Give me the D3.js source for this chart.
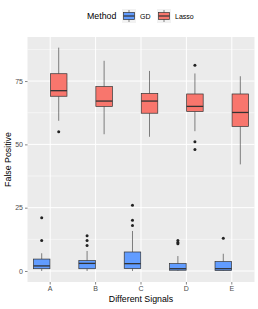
<!DOCTYPE html>
<html><head><meta charset="utf-8">
<script src="https://cdn.jsdelivr.net/npm/d3@7"></script>
<style>body{margin:0;background:#fff}svg{display:block}text{font-family:"Liberation Sans",Arial,sans-serif}</style>
</head><body><svg id="c" width="258" height="309"></svg>
<script>
const categories = ["A","B","C","D","E"];
const methods = ["GD","Lasso"];
const colors = ["#619CFF","#F8766D"];
// [whiskerLow, Q1, median, Q3, whiskerHigh]
const gdStats = [[0,0.9,2,4.7,7],[0,0.9,3,4.1,7.9],[0,1,2.9,7.5,15.8],[0,0.3,0.9,2.9,5.9],[0,0.2,0.9,3.7,6.8]];
const lassoStats = [[59.3,69,71.2,77.9,88.2],[54,65,67.1,72.8,83],[53,62.3,67.1,70.1,79],[55.2,63,65,69.9,78],[42.1,57.1,62.6,69.9,76.9]];
const gdOutliers = [[21,12],[13.9,12,10.1],[26,20,18],[12,11.2,10.8],[12.9]];
const lassoOutliers = [[55],[],[],[81.2,51,48],[]];
const yTicks = [0,25,50,75];
const yMinor = [12.5,37.5,62.5,87.5];

const svg = d3.select("#c");
const L=27.5, R=254.5, T=37, B=282;
const x = d3.scaleBand().domain(categories).range([L,R]).paddingOuter(0.1).paddingInner(0.2);
const step = x.step();
const xc = c => x(c)+x.bandwidth()/2;
const y = d3.scaleLinear().domain([-4.35,92.4]).range([B,T]);

svg.append("rect").attr("x",L).attr("y",T).attr("width",R-L).attr("height",B-T).attr("fill","#EBEBEB");
const g = svg.append("g");
g.selectAll(".mn").data(yMinor).join("line").attr("x1",L).attr("x2",R).attr("y1",d=>y(d)).attr("y2",d=>y(d)).attr("stroke","#fff").attr("stroke-width",0.5);
g.selectAll(".mj").data(yTicks).join("line").attr("x1",L).attr("x2",R).attr("y1",d=>y(d)).attr("y2",d=>y(d)).attr("stroke","#fff").attr("stroke-width",1);
g.selectAll(".vx").data(categories).join("line").attr("x1",d=>xc(d)).attr("x2",d=>xc(d)).attr("y1",T).attr("y2",B).attr("stroke","#fff").attr("stroke-width",1);

const dodge = step*0.75/2;
const bw = dodge*0.97;
const sets = [{stats:gdStats,out:gdOutliers,col:colors[0],off:-dodge/2},{stats:lassoStats,out:lassoOutliers,col:colors[1],off:dodge/2}];
sets.forEach(s=>{
  categories.forEach((c,i)=>{
    const cx = xc(c)+s.off, st=s.stats[i];
    g.append("line").attr("x1",cx).attr("x2",cx).attr("y1",y(st[4])).attr("y2",y(st[3])).attr("stroke","#333").attr("stroke-width",0.6);
    g.append("line").attr("x1",cx).attr("x2",cx).attr("y1",y(st[1])).attr("y2",y(st[0])).attr("stroke","#333").attr("stroke-width",0.6);
    g.append("rect").attr("x",cx-bw/2).attr("y",y(st[3])).attr("width",bw).attr("height",y(st[1])-y(st[3])).attr("fill",s.col).attr("stroke","#333").attr("stroke-width",0.7);
    g.append("line").attr("x1",cx-bw/2).attr("x2",cx+bw/2).attr("y1",y(st[2])).attr("y2",y(st[2])).attr("stroke","#333").attr("stroke-width",1.3);
    s.out[i].forEach(o=>g.append("circle").attr("cx",cx).attr("cy",y(o)).attr("r",1.5).attr("fill","#222"));
  });
});

// axes
const ya = svg.append("g").attr("transform",`translate(${L},0)`).call(d3.axisLeft(y).tickValues(yTicks).tickSize(2.5).tickPadding(2));
ya.select(".domain").remove();
ya.selectAll("line").attr("stroke","#333").attr("stroke-width",0.6);
ya.selectAll("text").attr("fill","#4D4D4D").style("font-size","7px");
const xa = svg.append("g").attr("transform",`translate(0,${B})`).call(d3.axisBottom(x).tickSize(2.5).tickPadding(2));
xa.select(".domain").remove();
xa.selectAll("line").attr("stroke","#333").attr("stroke-width",0.6);
xa.selectAll("text").attr("fill","#4D4D4D").style("font-size","7px");

svg.append("text").attr("x",(L+R)/2).attr("y",302).attr("text-anchor","middle").style("font-size","8.8px").attr("fill","#000").text("Different Signals");
svg.append("text").attr("transform",`translate(11,${(T+B)/2}) rotate(-90)`).attr("text-anchor","middle").style("font-size","8.8px").attr("fill","#000").text("False Positive");

// legend
const lg = svg.append("g");
lg.append("text").attr("x",87).attr("y",19).style("font-size","8.8px").text("Method");
const keyX=[122,157], labX=[140,175];
methods.forEach((m,i)=>{
  const kx=keyX[i], ky=9;
  lg.append("rect").attr("x",kx).attr("y",ky).attr("width",14).attr("height",14).attr("fill","#F2F2F2");
  lg.append("line").attr("x1",kx+7).attr("x2",kx+7).attr("y1",ky+1).attr("y2",ky+13).attr("stroke","#333").attr("stroke-width",0.6);
  lg.append("rect").attr("x",kx+1.5).attr("y",ky+3.5).attr("width",11).attr("height",7).attr("fill",colors[i]).attr("stroke","#333").attr("stroke-width",0.7);
  lg.append("line").attr("x1",kx+1.5).attr("x2",kx+12.5).attr("y1",ky+7).attr("y2",ky+7).attr("stroke","#333").attr("stroke-width",1.2);
  lg.append("text").attr("x",labX[i]).attr("y",18.5).style("font-size","7px").text(m);
});
</script></body></html>
